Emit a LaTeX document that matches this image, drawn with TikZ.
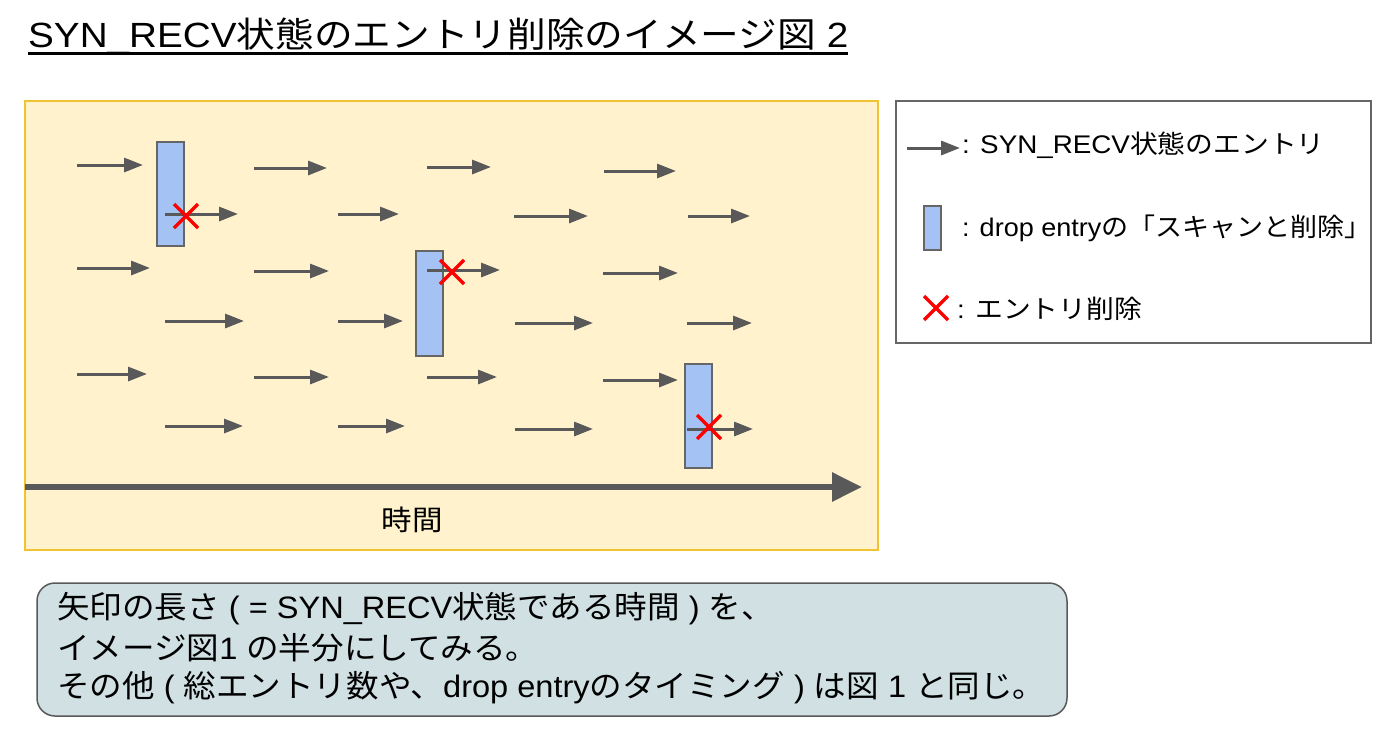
\documentclass[tikz,border=0pt]{standalone}
\usepackage{fontspec}
\setmainfont{Liberation Sans}
\newfontfamily\jp{Noto Sans CJK JP}
\usetikzlibrary{arrows.meta}
\definecolor{arrowgray}{HTML}{595959}
\definecolor{boxgray}{HTML}{666666}
\definecolor{scanblue}{HTML}{A4C2F4}
\definecolor{paneyellow}{HTML}{FFF2CC}
\definecolor{paneborder}{HTML}{F1C232}
\definecolor{calloutfill}{HTML}{D0E0E3}
\definecolor{xred}{HTML}{FF0000}
\newcommand\legtext[2][1.09]{\scalebox{#1}[1]{\fontsize{25.5}{30}\selectfont #2}}
\newcommand\calltext[1]{\scalebox{1.05}[1]{\fontsize{31}{36}\selectfont #1}}
\begin{document}
\begin{tikzpicture}[x=1pt,y=-1pt,
  entry/.style={line width=3pt,draw=arrowgray,-{Triangle[length=19pt,width=14pt]}},
  timeaxis/.style={line width=6pt,draw=arrowgray,-{Triangle[length=30pt,width=28pt]}},
  scanbox/.style={draw=boxgray,line width=1.2pt,fill=scanblue},
  xline/.style={draw=xred,line width=3.5pt},
  delx/.pic={\draw[xline] (-12,-12) -- (12,12) (-12,12) -- (12,-12);},
  txt/.style={inner sep=0pt,anchor=west,text=black}
]
\useasboundingbox (0,0) rectangle (1384,750);
% title
\node[inner sep=0pt,anchor=base west] (title) at (28,47.5) {\scalebox{1.105}[1]{\fontsize{35}{42}\selectfont SYN\_RECV{\jp 状態のエントリ削除のイメージ図} 2}};
\draw[line width=3pt] ([yshift=-5.5pt]title.base west) -- ([yshift=-5.5pt]title.base east);
% main pane
\draw[fill=paneyellow,draw=paneborder,line width=1.5pt] (25,101) rectangle (878,550);
% scan boxes
\draw[scanbox] (157,142) rectangle (184,246);
\draw[scanbox] (416,251) rectangle (443,356);
\draw[scanbox] (685,364) rectangle (712,468);
% entries
\foreach \a/\b/\y in {77/143/165,254/327/168,427/491/167,604/676/171,
  165/238/214,338/399/214,514/588/216,688/750/216,
  77/150/268,254/329/271,427/500/270,603/678/273,
  165/244/321,338/403/321,515/593/323,687/752/323,
  77/147/374,254/329/377,427/497/377,603/678/380,
  165/243/426,338/405/426,515/593/429,687/753/429}
  \draw[entry] (\a,\y) -- (\b,\y);
% deletions
\pic (d1) at (186,216) {delx};
\pic (d2) at (452,272) {delx};
\pic (d3) at (709,427) {delx};
% time axis
\coordinate (t0) at (25,487);
\coordinate (t1) at (862,487);
\draw[timeaxis] (t0) -- (t1);
\node[inner sep=0pt] (time) at (412,520) {\scalebox{1.09}[1]{\jp\fontsize{28}{32}\selectfont 時間}};
% legend
\draw[fill=white,draw=boxgray,line width=2.5pt] (896,101) rectangle (1371,343);
\coordinate (l0) at (907,148);
\coordinate (l1) at (960,148);
\draw[entry] (l0) -- (l1);
\node[txt] (leg1) at (962,145) {\legtext{: SYN\_RECV{\jp 状態のエントリ}}};
\draw[scanbox] (924,206) rectangle (941,250);
\node[txt] (leg2) at (962,228) {\legtext[1.06]{: drop entry{\jp の「スキャンと削除」}}};
\pic (lx) at (936,308) {delx};
\node[txt] (leg3) at (957,309) {\legtext{: {\jp エントリ削除}}};
% callout
\draw[fill=calloutfill,draw=arrowgray,line width=1.5pt,rounded corners=18pt] (37,583) rectangle (1067,716);
\node[txt] (c1) at (57,609) {\calltext{{\jp 矢印の長さ} ( = SYN\_RECV{\jp 状態である時間} ) {\jp を、}}};
\node[txt] (c2) at (57,648) {\calltext{{\jp イメージ図}1 {\jp の半分にしてみる。}}};
\node[txt] (c3) at (57,688) {\calltext{{\jp その他} ( {\jp 総エントリ数や、}drop entry{\jp のタイミング} ) {\jp は図} 1 {\jp と同じ。}}};
\end{tikzpicture}
\end{document}
